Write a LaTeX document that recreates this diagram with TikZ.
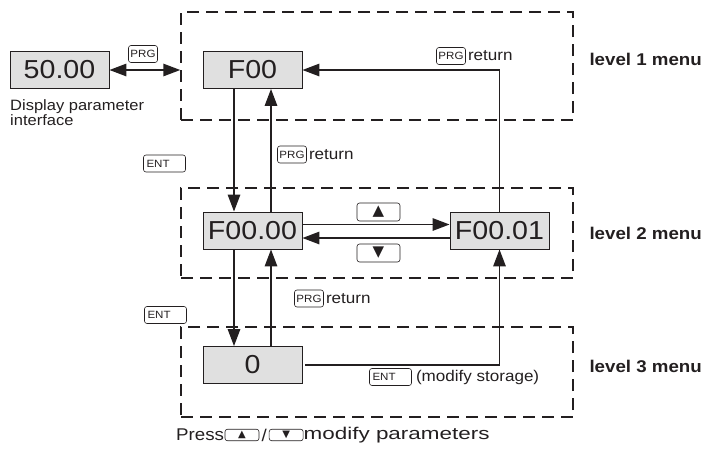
\documentclass[tikz,border=0pt]{standalone}
\usepackage{fontspec}
\setmainfont{Liberation Sans}[FakeStretch=1.1]
\newfontfamily\symfont{DejaVu Sans}
\usetikzlibrary{arrows.meta, positioning}
\definecolor{lcdgray}{RGB}{224,224,224}
\definecolor{inkdark}{RGB}{35,31,32}

\begin{document}
\begin{tikzpicture}[
		x=1pt, y=-1pt,
		every node/.style={text=inkdark},
		lcd/.style={draw=inkdark, fill=lcdgray, line width=0.9pt, minimum width=99pt,
			minimum height=37pt, inner sep=0pt, font=\fontsize{26}{28}\selectfont},
		levelbox/.style={draw=inkdark, line width=1.5pt, dash pattern=on 12pt off 7pt,
			inner sep=0pt, minimum width=392pt},
		keybox/.style={draw=inkdark, rounded corners=2.5pt, line width=0.6pt, minimum width=29pt,
			minimum height=17pt, inner sep=1pt, font=\fontsize{10.5}{10.5}\selectfont},
		entkey/.style={keybox, text width=36pt, align=left, inner sep=3pt},
		arrkey/.style={keybox, minimum width=43pt, minimum height=18pt, font=\symfont\fontsize{15}{15}\selectfont},
		smallkey/.style={keybox, minimum width=34pt, minimum height=11.5pt, inner sep=0pt,
			font=\symfont\fontsize{10}{10}\selectfont},
		lbl/.style={font=\fontsize{15.5}{16}\selectfont, inner sep=1pt},
		presslbl/.style={font=\fontsize{17}{17}\selectfont, inner sep=0pt},
		menulbl/.style={anchor=west, font=\bfseries\fontsize{17}{18}\selectfont},
		arrow/.style={->, >={Triangle[length=17pt, width=12.5pt]}, line width=1.5pt, draw=inkdark}
	]
		\useasboundingbox (0,0) rectangle (709,448);
		% menu levels
		\node[levelbox, minimum height=108pt] (lvl1) at (377,66) {};
		\node[levelbox, minimum height=90pt] (lvl2) at (377,233) {};
		\node[levelbox, minimum height=90pt] (lvl3) at (377,372) {};
		\node[menulbl] (m1) at (586,59) {level 1 menu};
		\node[menulbl] (m2) at (586,233) {level 2 menu};
		\node[menulbl] (m3) at (586,366) {level 3 menu};
		% displays
		\node[lcd] (disp) at (59.5,70) {50.00};
		\node[lcd] (f00) at (252.5,70) {F00};
		\node[lcd] (f0000) at (252.5,230.5) {F00.00};
		\node[lcd] (f0001) at (499.5,230.5) {F00.01};
		\node[lcd] (val) at (252.5,365) {0};
		\node[lbl, anchor=north west, align=left, font=\fontsize{15}{10.5}\selectfont] (disptxt) at (9,98) {Display parameter\\interface};
		% keys
		\node[keybox] (prg0) at (143,54) {PRG};
		\node[keybox] (prg1) at (451,56) {PRG};
		\node[lbl, right=1pt of prg1] (ret1) {return};
		\node[keybox] (prg2) at (292,154.5) {PRG};
		\node[lbl, right=1pt of prg2] (ret2) {return};
		\node[keybox] (prg3) at (309,298.5) {PRG};
		\node[lbl, right=1pt of prg3] (ret3) {return};
		\node[entkey] (ent1) at (164.5,163.5) {ENT};
		\node[entkey] (ent2) at (165.5,315) {ENT};
		\node[entkey] (ent3) at (390.5,377) {ENT};
		\node[lbl, right=3pt of ent3] (store) {(modify storage)};
		\node[arrkey] (upk) at (378.5,212) {▲};
		\node[arrkey] (dnk) at (378.5,253) {▼};
		% bottom hint
		\node[presslbl, anchor=west] (press) at (176,435) {Press};
		\node[smallkey, right=0.5pt of press] (upk2) {▲};
		\node[presslbl, right=2pt of upk2] (slash) {/};
		\node[smallkey, right=2pt of slash] (dnk2) {▼};
		\node[presslbl, right=0pt of dnk2] (modp) {\scalebox{1.2}[1]{modify parameters}};
		% connectors
		\draw[arrow, <->] (disp.east) -- (disp.east -| lvl1.west);
		\draw[arrow] ([xshift=-18.5pt]f00.south) -- ([xshift=-18.5pt]f0000.north);
		\draw[arrow] ([xshift=18.5pt]f0000.north) -- ([xshift=18.5pt]f00.south);
		\draw[arrow] ([yshift=6pt]f0000.east) -- ([yshift=6pt]f0001.west);
		\draw[arrow] ([yshift=-7.5pt]f0001.west) -- ([yshift=-7.5pt]f0000.east);
		\draw[arrow] (f0001.north) |- (f00.east);
		\draw[arrow] ([xshift=-18.5pt]f0000.south) -- ([xshift=-18.5pt]val.north);
		\draw[arrow] ([xshift=18.5pt]val.north) -- ([xshift=18.5pt]f0000.south);
		\draw[arrow, shorten <=3pt] (val.east) -| (f0001.south);
\end{tikzpicture}
\end{document}
